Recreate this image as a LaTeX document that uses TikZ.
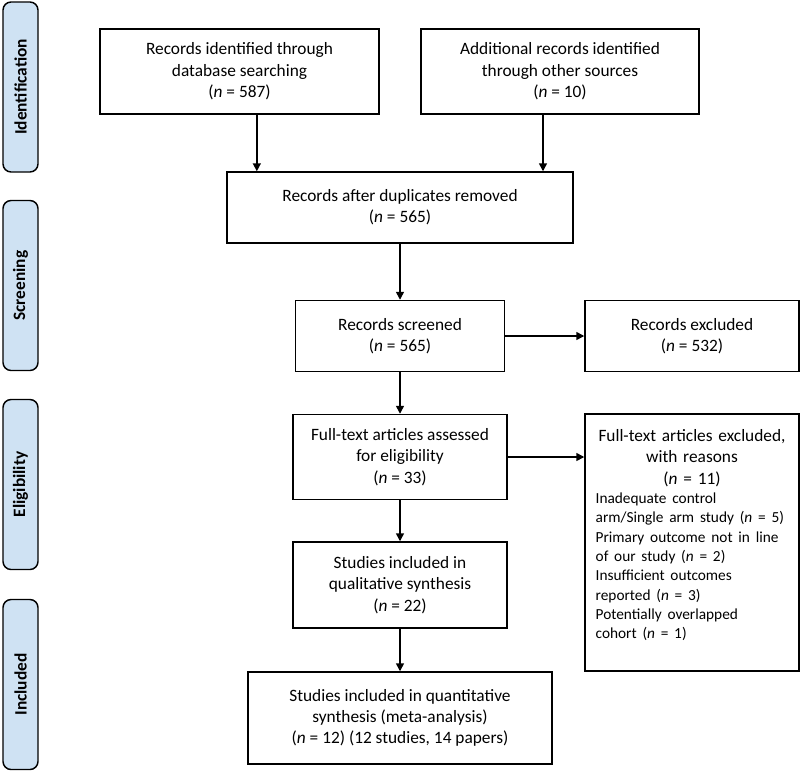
\documentclass[tikz,border=0pt]{standalone}
\usepackage{fontspec}
\setmainfont{Carlito}
\usetikzlibrary{arrows.meta}
\setlength{\parindent}{0pt}
\definecolor{tabblue}{RGB}{207,226,243}
\newcommand{\ncount}{\textit{n}}
\tikzstyle{record} = [rectangle, draw=black, line width=1.1pt, fill=white, align=center, inner sep=2pt]
\tikzstyle{phase} = [rectangle, rounded corners=6pt, draw=black, line width=1.1pt, fill=tabblue, rotate=90, minimum width=127.5pt, minimum height=26.25pt, font=\fontsize{13}{16}\selectfont\bfseries]
\tikzstyle{flow} = [line width=1.1pt, -{Triangle[length=6pt,width=6pt]}]

\begin{document}
\begin{tikzpicture}[x=0.75pt, y=-0.75pt, font=\fontsize{13}{16}\selectfont]
		\useasboundingbox (0,0) rectangle (800,771);

		% phase tabs on the left
		\foreach \ypos/\name in {87/Identification, 285.5/Screening, 484.5/Eligibility, 684.5/Included}
			\node (\name) [phase] at (20.5,\ypos) {\name};

		\node (dbs) [record, minimum width=209.25pt, minimum height=63.75pt] at (239.5,71.5) {Records identified through\\ database searching\\ (\ncount{} = 587)};
		\node (oth) [record, minimum width=208.5pt, minimum height=63.75pt] at (560,71.5) {Additional records identified\\ through other sources\\ (\ncount{} = 10)};
		\node (dup) [record, minimum width=259.5pt, minimum height=53.25pt] at (400,207.5) {Records after duplicates removed\\ (\ncount{} = 565)};
		\node (scr) [record, minimum width=156.75pt, minimum height=53.25pt] at (400,336) {Records screened\\ (\ncount{} = 565)};
		\node (exc) [record, minimum width=160.5pt, minimum height=53.25pt] at (692,336) {Records excluded\\ (\ncount{} = 532)};
		\node (full) [record, minimum width=160.5pt, minimum height=63.75pt] at (400,457) {Full-text articles assessed\\ for eligibility\\ (\ncount{} = 33)};
		\node (why) [record, align=left, text width=144.5pt, inner xsep=8pt, minimum height=192.75pt] at (692,542.5) {{\centering Full-text articles excluded,\\ with reasons\\ (\ncount{} = 11)\par}
			\fontsize{11.5}{14.5}\selectfont Inadequate control\\ arm/Single arm study (\ncount{} = 5)\\ Primary outcome not in line\\ of our study (\ncount{} = 2)\\ Insufficient outcomes\\ reported (\ncount{} = 3)\\ Potentially overlapped\\ cohort (\ncount{} = 1)\\[-8pt]\strut};
		\node (qual) [record, minimum width=160.5pt, minimum height=64.5pt] at (400,585) {Studies included in\\ qualitative synthesis\\ (\ncount{} = 22)};
		\node (quant) [record, minimum width=228pt, minimum height=69pt] at (400,718) {Studies included in quantitative\\ synthesis (meta-analysis)\\ (\ncount{} = 12) (12 studies, 14 papers)};

		\draw [flow] ([xshift=13pt]dbs.south) -- ([xshift=13pt]dbs.south |- dup.north);
		\draw [flow] ([xshift=-12.75pt]oth.south) -- ([xshift=-12.75pt]oth.south |- dup.north);
		\draw [flow] (dup.south) -- (dup.south |- scr.north);
		\draw [flow] (scr) -- (exc);
		\draw [flow] (scr.south) -- (scr.south |- full.north);
		\draw [flow] (full) -- (full -| why.west);
		\draw [flow] (full.south) -- (qual.north);
		\draw [flow] (qual.south) -- (quant.north);
	  \end{tikzpicture}
\end{document}
